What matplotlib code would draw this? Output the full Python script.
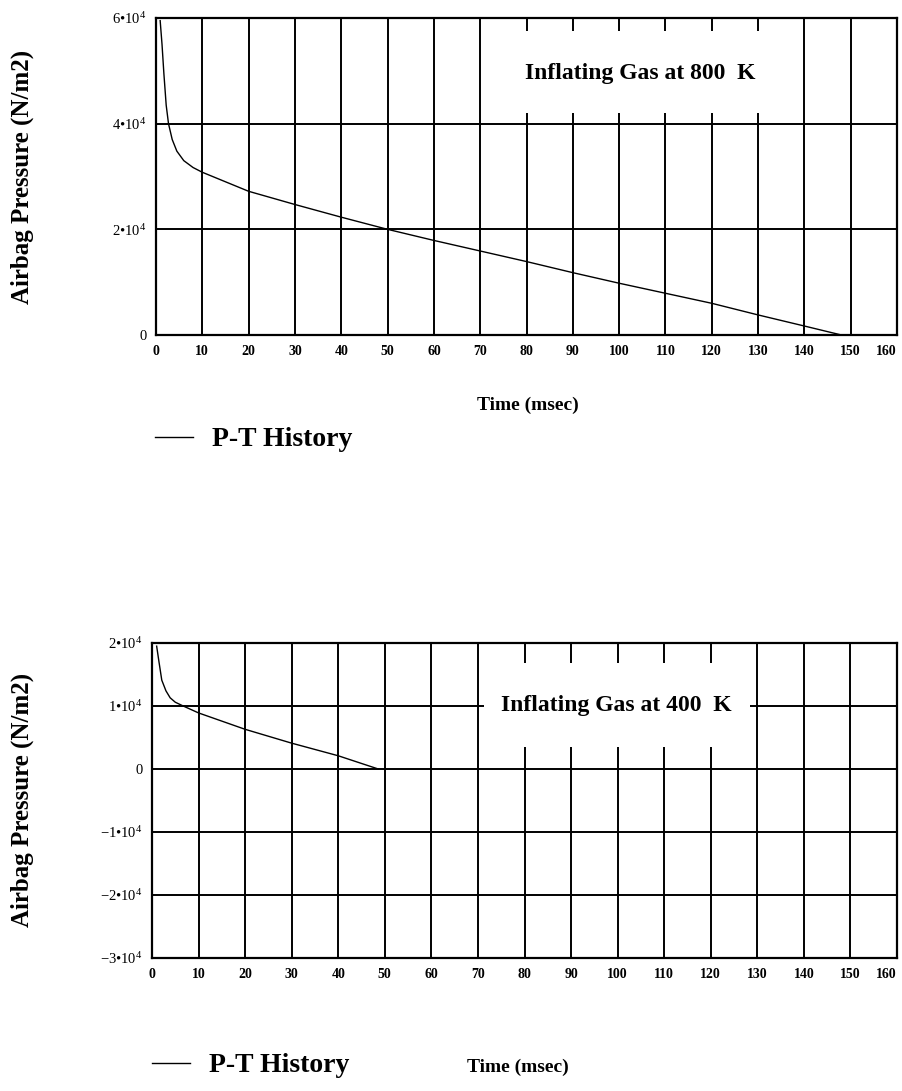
import matplotlib
matplotlib.use("Agg")
import matplotlib.pyplot as plt
from matplotlib.patches import Rectangle

plt.rcParams['font.family'] = ['Liberation Serif', 'DejaVu Serif']
plt.rcParams['mathtext.fontset'] = 'custom'
plt.rcParams['mathtext.rm'] = 'Liberation Serif'
plt.rcParams['mathtext.default'] = 'regular'

# data
t_800 = [0.9, 1.3, 1.7, 2.2, 2.7, 3.5, 4.5, 6, 8, 10, 20, 30, 40, 50, 60, 70, 80, 90,
         100, 110, 120, 130, 140, 148]
p_800 = [5.95e4, 5.5e4, 4.95e4, 4.35e4, 4.0e4, 3.7e4, 3.48e4, 3.3e4, 3.17e4, 3.08e4,
         2.72e4, 2.47e4, 2.23e4, 2.0e4, 1.79e4, 1.59e4, 1.39e4, 1.18e4,
         0.98e4, 0.79e4, 0.6e4, 0.38e4, 0.17e4, 0.0]

t_400 = [1, 1.5, 2.1, 3, 3.9, 5, 6.7, 10, 20, 30, 40, 48.6]
p_400 = [1.95e4, 1.7e4, 1.41e4, 1.24e4, 1.13e4, 1.06e4, 1.0e4, 0.89e4, 0.63e4,
         0.41e4, 0.21e4, 0.0]

x_ticks = list(range(0, 161, 10))
y_ticks_800 = [0, 2e4, 4e4, 6e4]
y_labels_800 = ['0', '2\u202210$^4$', '4\u202210$^4$', '6\u202210$^4$']
y_ticks_400 = [-3e4, -2e4, -1e4, 0, 1e4, 2e4]
y_labels_400 = ['\u22123\u202210$^4$', '\u22122\u202210$^4$', '\u22121\u202210$^4$', '0',
                '1\u202210$^4$', '2\u202210$^4$']

W, H = 903, 1091
fig = plt.figure(figsize=(W / 100, H / 100), dpi=100)


def fx(px):
    return px / W


def fy(py):
    return 1 - py / H


def setup(ax, yticks, ylabels):
    ax.set_xlim(0, 160)
    ax.set_ylim(yticks[0], yticks[-1])
    ax.set_xticks(x_ticks)
    ax.set_xticklabels([str(v) for v in x_ticks], fontsize=10, fontweight='bold')
    ax.get_xticklabels()[-1].set_horizontalalignment('right')  # 160 sits at the edge
    ax.set_yticks(yticks)
    ax.set_yticklabels(ylabels, fontsize=10.5)
    ax.tick_params(length=0, pad=7)
    ax.grid(True, color='black', linewidth=1.4)
    ax.set_axisbelow(True)
    for s in ax.spines.values():
        s.set_linewidth(1.6)


# top plot - 800 K
ax1 = fig.add_axes([fx(156), fy(335), fx(897 - 156), (335 - 18) / H])
setup(ax1, y_ticks_800, y_labels_800)
ax1.add_patch(Rectangle((70.5, 4.2e4), 69.0, 1.55e4, facecolor='white', edgecolor='none', zorder=1.5))
ax1.plot(t_800, p_800, color='black', linewidth=1.0, zorder=3)
ax1.text(104.5, 4.95e4, 'Inflating Gas at 800  K', fontsize=17, fontweight='bold',
         ha='center', va='center', zorder=4)

# bottom plot - 400 K
ax2 = fig.add_axes([fx(152), fy(958), fx(897 - 152), (958 - 643) / H])
setup(ax2, y_ticks_400, y_labels_400)
ax2.add_patch(Rectangle((71.2, 0.35e4), 57.2, 1.33e4, facecolor='white', edgecolor='none', zorder=1.5))
ax2.plot(t_400, p_400, color='black', linewidth=1.0, zorder=3)
ax2.text(99.8, 1.0e4, 'Inflating Gas at 400  K', fontsize=17, fontweight='bold',
         ha='center', va='center', zorder=4)

# axis titles
for yc in (177, 800):
    fig.text(fx(22), fy(yc), 'Airbag Pressure (N/m2)', rotation=90, fontsize=18,
             fontweight='bold', ha='center', va='center')
fig.text(fx(528), fy(405), 'Time (msec)', fontsize=14, fontweight='bold', ha='center', va='center')
fig.text(fx(518), fy(1067), 'Time (msec)', fontsize=14, fontweight='bold', ha='center', va='center')

# legends
for (x0, yc) in ((155, 440), (152, 1066)):
    fig.add_artist(plt.Line2D([fx(x0), fx(x0 + 38)], [fy(yc - 3), fy(yc - 3)],
                              color='black', linewidth=1.0))
    fig.text(fx(x0 + 57), fy(yc), 'P-T History', fontsize=20, fontweight='bold',
             ha='left', va='center')

fig.savefig('out.png', dpi=100, facecolor='white')
